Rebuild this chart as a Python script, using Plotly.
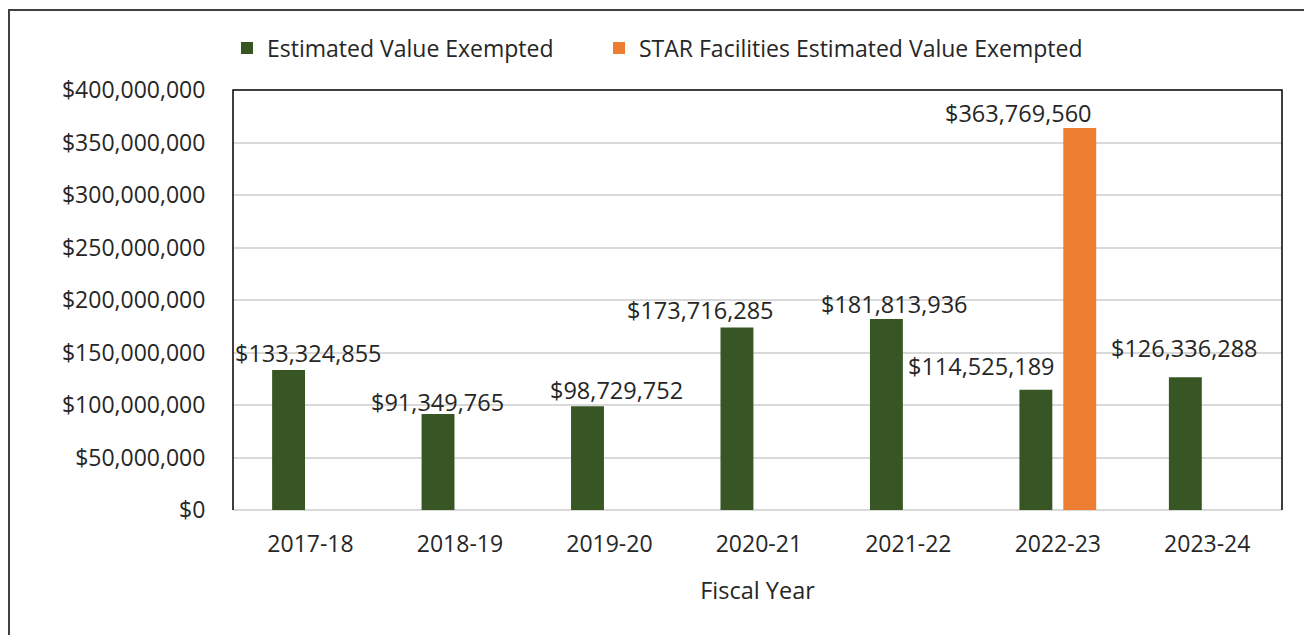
import plotly.graph_objects as go

# ---- data ----
fiscal_years = ["2017-18", "2018-19", "2019-20", "2020-21", "2021-22", "2022-23", "2023-24"]
estimated_value = [133324855, 91349765, 98729752, 173716285, 181813936, 114525189, 126336288]
star_years = ["2022-23"]
star_value = [363769560]
y_tick_values = [0, 50000000, 100000000, 150000000, 200000000, 250000000, 300000000, 350000000, 400000000]

# ---- styles ----
GREEN = "#375623"
ORANGE = "#ED7D31"
TEXT = "#262626"
FONT = "'Open Sans', sans-serif"
FS = 23
FS_LABEL = 23.5

# label offsets (px) relative to category centre / bar top
green_label_dx = [-2, -22, 7, -58, -14, -76, -23]
green_label_dy = [17, 12, 16, 18, 15, 24, 29]
star_label_dx = [-39]
star_label_dy = [15]

fig = go.Figure()
fig.add_trace(go.Bar(name="Estimated Value Exempted", x=fiscal_years, y=estimated_value,
                     marker=dict(color=GREEN, line=dict(width=0)), legend="legend"))
fig.add_trace(go.Bar(name="STAR Facilities Estimated Value Exempted", x=star_years, y=star_value,
                     marker=dict(color=ORANGE, line=dict(width=0)), legend="legend2"))

def money(v):
    return "${:,.0f}".format(v)

annotations = []
for x, v, dx, dy in zip(fiscal_years, estimated_value, green_label_dx, green_label_dy):
    annotations.append(dict(x=x, y=v, text=money(v), showarrow=False, xanchor="center",
                            yanchor="middle", xshift=dx, yshift=dy,
                            font=dict(family=FONT, size=FS_LABEL, color=TEXT)))
for x, v, dx, dy in zip(star_years, star_value, star_label_dx, star_label_dy):
    annotations.append(dict(x=x, y=v, text=money(v), showarrow=False, xanchor="center",
                            yanchor="middle", xshift=dx, yshift=dy,
                            font=dict(family=FONT, size=FS_LABEL, color=TEXT)))

# page offset of the figure (browser body margin)
OFF = 8
W, H = 1312 - OFF, 635 - OFF
ml, mr, mt, mb = 233 - OFF, 30, 90 - OFF, 125
pw, ph = W - ml - mr, H - mt - mb

def px_x(x):  # page x -> paper
    return (x - OFF - ml) / pw

def px_y(y):  # page y -> paper
    return (H - mb - (y - OFF)) / ph

shapes = [
    # plot frame: left, top, right
    dict(type="path", xref="paper", yref="paper",
         path="M 0,0 L 0,1 L 1,1 L 1,0", line=dict(color="#000000", width=1.5)),
    # outer chart border
    dict(type="rect", xref="paper", yref="paper",
         x0=px_x(OFF + 1), x1=px_x(1308), y0=px_y(660), y1=px_y(10),
         line=dict(color="#404040", width=2)),
]

legend_common = dict(orientation="h", xanchor="left", yanchor="middle",
                     font=dict(family=FONT, size=FS, color=TEXT), bgcolor="rgba(0,0,0,0)")

fig.update_layout(
    width=W, height=H,
    margin=dict(l=ml, r=mr, t=mt, b=mb, autoexpand=False),
    paper_bgcolor="white", plot_bgcolor="white",
    barmode="group", bargap=0.413, bargroupgap=0.25,
    font=dict(family=FONT, size=FS, color=TEXT),
    showlegend=True,
    legend=dict(x=px_x(227), y=px_y(48), **legend_common),
    legend2=dict(x=px_x(599), y=px_y(48), **legend_common),
    xaxis=dict(title=dict(text="Fiscal Year", standoff=24, font=dict(family=FONT, size=FS_LABEL, color=TEXT)),
               showline=False, showgrid=False, ticks="outside", ticklen=13, tickcolor="rgba(0,0,0,0)",
               tickfont=dict(family=FONT, size=FS, color=TEXT)),
    yaxis=dict(range=[0, 400000000], tickvals=y_tick_values,
               ticktext=[money(v) for v in y_tick_values],
               showgrid=True, gridcolor="#D9D9D9", gridwidth=2,
               zeroline=True, zerolinecolor="#D9D9D9", zerolinewidth=2,
               showline=False, ticks="outside", ticklen=22, tickcolor="rgba(0,0,0,0)",
               tickfont=dict(family=FONT, size=FS, color=TEXT)),
    annotations=annotations,
    shapes=shapes,
)

fig.write_html("out.html")
